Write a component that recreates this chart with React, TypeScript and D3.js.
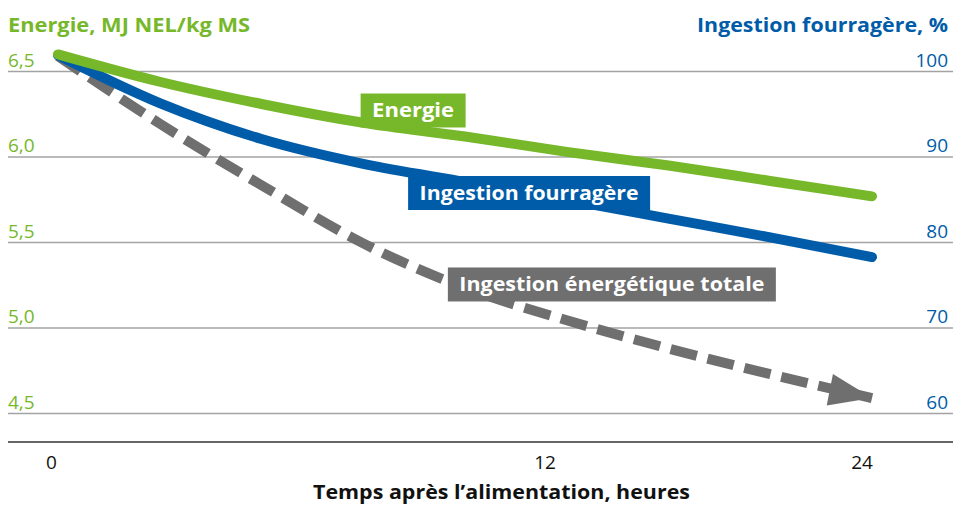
import React, { useRef, useEffect } from "react";
import * as d3 from "d3";

// hours after feeding
const hours = [0, 3, 6, 9, 12, 15, 18, 21, 24];
// Energie, MJ NEL/kg MS (left axis)
const energie = [6.6, 6.44, 6.31, 6.2, 6.12, 6.03, 5.95, 5.86, 5.77];
// Ingestion fourragère, % (right axis)
const fourrage = [101.9, 96.3, 92.1, 89.2, 87.1, 85.0, 82.8, 80.6, 78.3];
// Ingestion énergétique totale, % (right axis)
const totale = [101.8, 93.9, 86.7, 79.9, 74.7, 70.9, 67.6, 64.6, 61.8];

const leftTicks = [6.5, 6.0, 5.5, 5.0, 4.5];
const rightTicks = [100, 90, 80, 70, 60];
const xTicks = [0, 12, 24];

const GREEN = "#76b82a";
const BLUE = "#005ca8";
const GRAY = "#6f6f6f";

const W = 955;
const H = 505;

const App = () => {
  const ref = useRef<SVGSVGElement>(null);

  useEffect(() => {
    const svg = d3.select(ref.current);
    svg.selectAll("*").remove();
    const font = "'Open Sans', 'Noto Sans', sans-serif";

    const x = d3.scaleLinear([0, 24], [58, 872]);
    // tick labels in the original are not evenly spaced
    const xLab = d3.scaleLinear([0, 12, 24], [51.5, 545, 862]);
    const yL = d3.scaleLinear([4.5, 6.5], [413.5, 71.5]);
    const yR = d3.scaleLinear([60, 100], [413.5, 71.5]);

    const left = 8;
    const right = 953;

    // grid
    svg.append("g")
      .selectAll("line")
      .data(leftTicks)
      .join("line")
      .attr("x1", left)
      .attr("x2", right)
      .attr("y1", d => yL(d))
      .attr("y2", d => yL(d))
      .attr("stroke", "#a3a3a3")
      .attr("stroke-width", 1.5);

    // bottom axis line
    svg.append("line")
      .attr("x1", left).attr("x2", right)
      .attr("y1", 442).attr("y2", 442)
      .attr("stroke", "#333").attr("stroke-width", 1.6);

    // left tick labels
    svg.append("g")
      .selectAll("text")
      .data(leftTicks)
      .join("text")
      .attr("x", left)
      .attr("y", d => yL(d) - 5)
      .attr("fill", GREEN)
      .attr("font-family", font)
      .attr("font-size", 19)
      .text(d => d3.format(".1f")(d).replace(".", ","));

    // right tick labels
    svg.append("g")
      .selectAll("text")
      .data(rightTicks)
      .join("text")
      .attr("x", 948)
      .attr("y", d => yR(d) - 5)
      .attr("text-anchor", "end")
      .attr("fill", BLUE)
      .attr("font-family", font)
      .attr("font-size", 19)
      .text(d => d);

    // x tick labels
    svg.append("g")
      .selectAll("text")
      .data(xTicks)
      .join("text")
      .attr("x", d => xLab(d))
      .attr("y", 469)
      .attr("text-anchor", "middle")
      .attr("fill", "#111")
      .attr("font-family", font)
      .attr("font-size", 19)
      .text(d => d);

    // axis titles
    svg.append("text")
      .attr("x", left).attr("y", 32)
      .attr("fill", GREEN)
      .attr("font-family", font).attr("font-weight", 700).attr("font-size", 20)
      .attr("textLength", 242).attr("lengthAdjust", "spacingAndGlyphs")
      .text("Energie, MJ NEL/kg MS");
    svg.append("text")
      .attr("x", 697).attr("y", 32)
      .attr("fill", BLUE)
      .attr("font-family", font).attr("font-weight", 700).attr("font-size", 20)
      .attr("textLength", 251).attr("lengthAdjust", "spacingAndGlyphs")
      .text("Ingestion fourragère, %");
    svg.append("text")
      .attr("x", 313).attr("y", 499)
      .attr("fill", "#111")
      .attr("font-family", font).attr("font-weight", 700).attr("font-size", 20)
      .attr("textLength", 377).attr("lengthAdjust", "spacingAndGlyphs")
      .text("Temps après l\u2019alimentation, heures");

    const I = d3.range(hours.length);
    const curve = d3.curveMonotoneX;

    // total energy intake: dashed line with arrow
    const grayLine = d3.line<number>().curve(curve)
      .x(i => x(hours[i]))
      .y(i => yR(totale[i]));
    svg.append("path")
      .attr("d", grayLine(I))
      .attr("fill", "none")
      .attr("stroke", GRAY)
      .attr("stroke-width", 10)
      .attr("stroke-dasharray", "27,11");

    const n = hours.length - 1;
    const tx = x(hours[n]), ty = yR(totale[n]);
    const px = x(hours[n - 1]), py = yR(totale[n - 1]);
    const ang = Math.atan2(ty - py, tx - px) * 180 / Math.PI - 2;
    svg.append("path")
      .attr("d", "M0,0 L-43,-16 L-43,16 Z")
      .attr("transform", `translate(${tx},${ty}) rotate(${ang})`)
      .attr("fill", GRAY);

    // forage intake
    const blueLine = d3.line<number>().curve(curve)
      .x(i => x(hours[i]))
      .y(i => yR(fourrage[i]));
    svg.append("path")
      .attr("d", blueLine(I))
      .attr("fill", "none")
      .attr("stroke", BLUE)
      .attr("stroke-width", 10)
      .attr("stroke-linecap", "round");

    // energy
    const greenLine = d3.line<number>().curve(curve)
      .x(i => x(hours[i]))
      .y(i => yL(energie[i]));
    svg.append("path")
      .attr("d", greenLine(I))
      .attr("fill", "none")
      .attr("stroke", GREEN)
      .attr("stroke-width", 10)
      .attr("stroke-linecap", "round");

    // line labels
    const labels = [
      { text: "Energie", h: 10.47, y: yL(6.272), color: GREEN, tw: 82 },
      { text: "Ingestion fourragère", h: 13.89, y: yR(85.79), color: BLUE, tw: 219 },
      { text: "Ingestion énergétique totale", h: 16.33, y: yR(75.09), color: GRAY, tw: 305 },
    ];
    const lg = svg.append("g")
      .selectAll("g")
      .data(labels)
      .join("g")
      .attr("transform", d => `translate(${x(d.h)},${d.y})`);
    lg.append("rect")
      .attr("x", d => -d.tw / 2 - 11.5)
      .attr("y", -17)
      .attr("width", d => d.tw + 23)
      .attr("height", 34)
      .attr("fill", d => d.color);
    lg.append("text")
      .attr("x", d => -d.tw / 2)
      .attr("y", 7)
      .attr("fill", "#fff")
      .attr("font-family", font)
      .attr("font-weight", 700)
      .attr("font-size", 20)
      .attr("textLength", d => d.tw)
      .attr("lengthAdjust", "spacingAndGlyphs")
      .text(d => d.text);
  }, []);

  return (
    <svg
      ref={ref}
      width={W}
      height={H}
      style={{ position: "absolute", left: 0, top: 0, background: "#fff" }}
    />
  );
};

export default App;
